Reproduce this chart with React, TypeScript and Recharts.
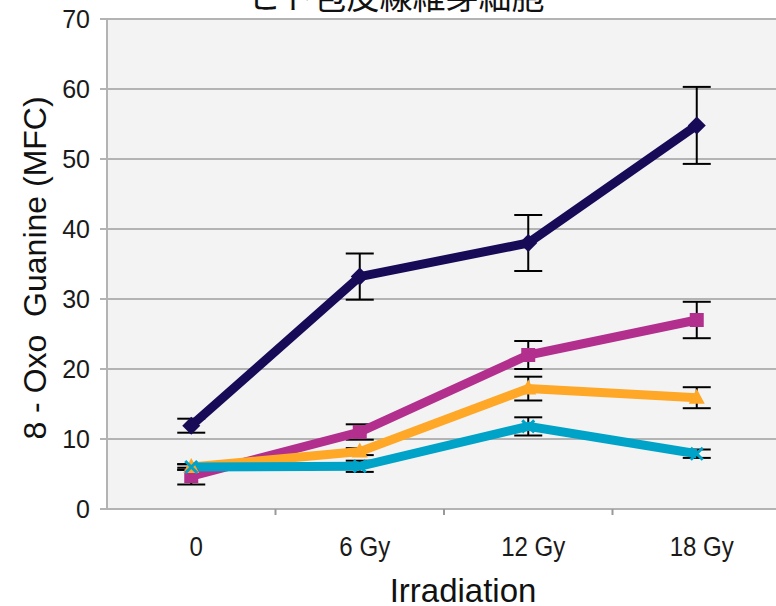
import { LineChart, Line, XAxis, YAxis, CartesianGrid, ErrorBar } from 'recharts';

const categories = ['0', '6 Gy', '12 Gy', '18 Gy'];
const yTicks = [0, 10, 20, 30, 40, 50, 60, 70];

const navy = [11.9, 33.2, 38.0, 54.8];
const navyErr = [1.0, 3.3, 4.0, 5.5];
const magenta = [4.7, 11.0, 22.0, 27.0];
const magentaErr = [1.2, 1.1, 2.0, 2.6];
const orange = [6.0, 8.2, 17.2, 15.9];
const orangeErr = [0.4, 0.5, 1.7, 1.5];
const cyan = [6.0, 6.1, 11.8, 7.9];
const cyanErr = [0.4, 0.8, 1.3, 0.6];

const data = categories.map((name, i) => ({
  x: i,
  name,
  navy: navy[i],
  navyErr: navyErr[i],
  magenta: magenta[i],
  magentaErr: magentaErr[i],
  orange: orange[i],
  orangeErr: orangeErr[i],
  cyan: cyan[i],
  cyanErr: cyanErr[i],
}));

const NAVY = '#170b57';
const MAGENTA = '#b32f8e';
const ORANGE = '#ffa726';
const CYAN = '#00a3c8';
const GRID = '#b3b3b3';

const Diamond = (props: any) => {
  const { cx, cy } = props;
  if (cx == null || cy == null) return null;
  return <path d={`M${cx},${cy - 9} L${cx + 9},${cy} L${cx},${cy + 9} L${cx - 9},${cy} Z`} fill={NAVY} />;
};

const Square = (props: any) => {
  const { cx, cy } = props;
  if (cx == null || cy == null) return null;
  return <rect x={cx - 7} y={cy - 7} width={14} height={14} fill={MAGENTA} />;
};

const Triangle = (props: any) => {
  const { cx, cy } = props;
  if (cx == null || cy == null) return null;
  return <path d={`M${cx},${cy - 9} L${cx + 8},${cy + 6} L${cx - 8},${cy + 6} Z`} fill={ORANGE} />;
};

const Cross = (props: any) => {
  const { cx, cy } = props;
  if (cx == null || cy == null) return null;
  return (
    <path
      d={`M${cx - 6},${cy - 6} L${cx + 6},${cy + 6} M${cx + 6},${cy - 6} L${cx - 6},${cy + 6}`}
      stroke={CYAN}
      strokeWidth={3}
    />
  );
};

// condensed look for the category labels
const CategoryTick = ({ x, y, payload }: any) => (
  <text
    transform={`translate(${x + 5}, ${y + 46}) scale(0.86, 1)`}
    x={0}
    y={0}
    textAnchor="middle"
    fontSize={28}
    fontFamily="'Liberation Sans', Arial, sans-serif"
    fill="#1a1a1a"
  >
    {categories[payload.value]}
  </text>
);

// blank tick, the axis only draws the short marks between categories
const MarkTick = () => null;

const XTitle = () => (
  <text x={463} y={602} textAnchor="middle" fontSize={33} fontFamily="'Liberation Sans', Arial, sans-serif" fill="#111">
    Irradiation
  </text>
);

const YTitleAndTitle = () => (
  <g>
    <text x={396} y={9} textAnchor="middle" fontSize={33} fontFamily="'Noto Sans CJK JP', sans-serif" fill="#111">
      ヒト包皮線維芽細胞
    </text>
    <text
      x={46}
      y={268}
      transform="rotate(-90 46 268)"
      textAnchor="middle"
      fontSize={32}
      fontFamily="'Liberation Sans', Arial, sans-serif"
      fill="#111"
      style={{ whiteSpace: 'pre' }}
    >
      {'8 - Oxo  Guanine (MFC)'}
    </text>
  </g>
);

export default function App() {
  return (
    <div style={{ position: 'absolute', left: 0, top: 0, width: 776, height: 606, overflow: 'hidden', background: '#fff' }}>
      <LineChart width={790} height={606} data={data} margin={{ top: 19, right: 9, left: 0, bottom: 0 }}>
        <CartesianGrid xAxisId="main" vertical={false} stroke={GRID} strokeWidth={2} fill="#f3f3f3" />
        <XAxis
          xAxisId="aMarks"
          dataKey="x"
          type="number"
          domain={[-0.5, 3.5]}
          ticks={[0.5, 1.5, 2.5]}
          tick={<MarkTick />}
          tickLine={{ stroke: '#999', strokeWidth: 2 }}
          tickSize={6}
          height={1}
          axisLine={{ stroke: GRID, strokeWidth: 2 }}
        />
        <XAxis
          xAxisId="main"
          dataKey="x"
          type="number"
          domain={[-0.5, 3.5]}
          ticks={[0, 1, 2, 3]}
          tick={<CategoryTick />}
          tickLine={false}
          tickSize={0}
          tickMargin={0}
          height={96}
          axisLine={false}
          label={<XTitle />}
        />
        <YAxis
          type="number"
          domain={[0, 70]}
          ticks={yTicks}
          width={107}
          tickSize={7}
          tickMargin={10}
          tickLine={{ stroke: GRID, strokeWidth: 2 }}
          axisLine={{ stroke: GRID, strokeWidth: 2 }}
          tick={{ fontSize: 25, fill: '#1a1a1a', fontFamily: "'Liberation Sans', Arial, sans-serif" }}
          label={<YTitleAndTitle />}
        />
        <Line xAxisId="aMarks" dataKey="navy" stroke="none" dot={false} activeDot={false} isAnimationActive={false} />
        <Line xAxisId="main" dataKey="navy" stroke={NAVY} strokeWidth={9} dot={<Diamond />} isAnimationActive={false}>
          <ErrorBar dataKey="navyErr" width={14} stroke="#000" strokeWidth={2} direction="y" />
        </Line>
        <Line xAxisId="main" dataKey="magenta" stroke={MAGENTA} strokeWidth={9} dot={<Square />} isAnimationActive={false}>
          <ErrorBar dataKey="magentaErr" width={14} stroke="#000" strokeWidth={2} direction="y" />
        </Line>
        <Line xAxisId="main" dataKey="orange" stroke={ORANGE} strokeWidth={9} dot={<Triangle />} isAnimationActive={false}>
          <ErrorBar dataKey="orangeErr" width={14} stroke="#000" strokeWidth={2} direction="y" />
        </Line>
        <Line xAxisId="main" dataKey="cyan" stroke={CYAN} strokeWidth={9} dot={<Cross />} isAnimationActive={false}>
          <ErrorBar dataKey="cyanErr" width={14} stroke="#000" strokeWidth={2} direction="y" />
        </Line>
      </LineChart>
    </div>
  );
}
